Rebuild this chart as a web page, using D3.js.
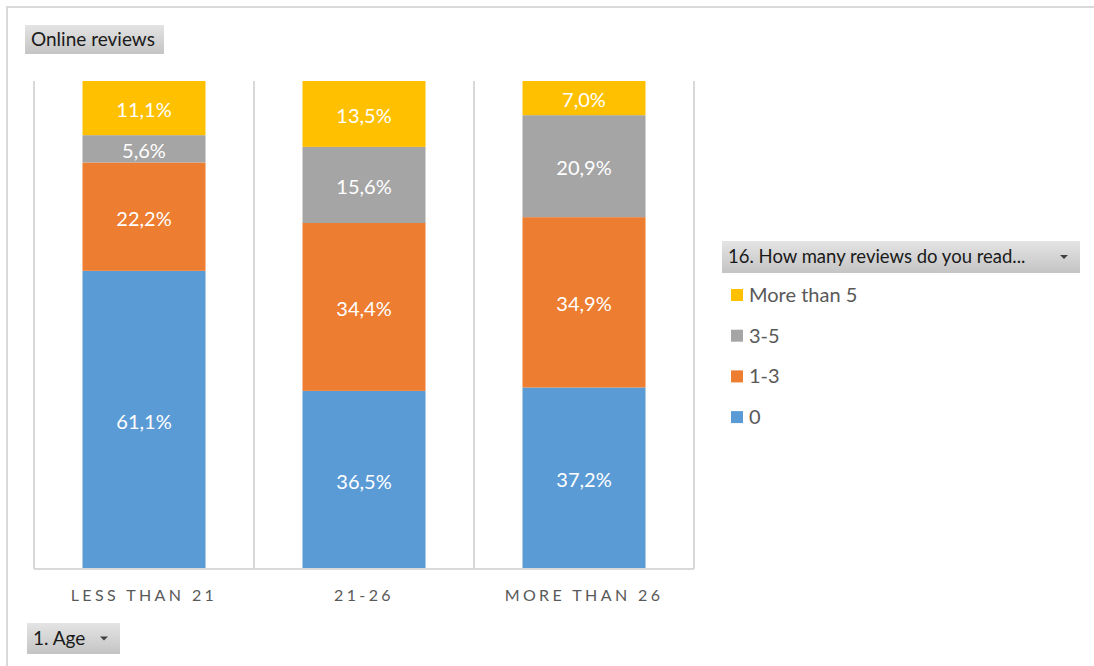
<!DOCTYPE html>
<html>
<head>
<meta charset="utf-8">
<script src="https://cdn.jsdelivr.net/npm/d3@7"></script>
<style>
  html, body { margin: 0; padding: 0; background: #fff; }
  svg { display: block; }
</style>
</head>
<body>
<svg id="chart" width="1094" height="666"></svg>
<script>
// Age groups on the x axis
const categories = ["LESS THAN 21", "21-26", "MORE THAN 26"];
// Answer groups, stacked bottom to top
const seriesNames = ["0", "1-3", "3-5", "More than 5"];
const seriesColors = ["#5b9bd5", "#ed7d31", "#a5a5a5", "#ffc000"];
// Percent of respondents per age group, one array per answer
const values0 = [61.1, 36.5, 37.2];
const values1to3 = [22.2, 34.4, 34.9];
const values3to5 = [5.6, 15.6, 20.9];
const valuesMore5 = [11.1, 13.5, 7.0];

const seriesValues = [values0, values1to3, values3to5, valuesMore5];
const rows = categories.map((c, i) => {
  const r = { cat: c };
  seriesNames.forEach((s, k) => r[s] = seriesValues[k][i]);
  return r;
});

const FONT = "Lato, 'Open Sans', 'Liberation Sans', sans-serif";
const svg = d3.select("#chart");

// Defs: button gradient
const defs = svg.append("defs");
const grad = defs.append("linearGradient").attr("id", "btn").attr("x1", 0).attr("y1", 0).attr("x2", 0).attr("y2", 1);
grad.append("stop").attr("offset", "0%").attr("stop-color", "#e4e4e4");
grad.append("stop").attr("offset", "100%").attr("stop-color", "#c4c4c4");

// Outer frame
svg.append("path")
  .attr("d", "M7,666 V7 H1094")
  .attr("fill", "none").attr("stroke", "#d9d9d9").attr("stroke-width", 2);

const plot = { left: 34, right: 694, top: 81, bottom: 569 };

const x = d3.scaleBand().domain(categories).range([plot.left, plot.right]).paddingInner(0).paddingOuter(0);
const barW = 123;
const y = d3.scaleLinear().domain([0, 100]).range([plot.bottom, plot.top]);

// Vertical separators between categories
const seps = d3.range(categories.length + 1).map(i => plot.left + i * x.bandwidth());
svg.append("g").selectAll("line").data(seps).join("line")
  .attr("x1", d => d).attr("x2", d => d)
  .attr("y1", plot.top).attr("y2", plot.bottom)
  .attr("stroke", "#d9d9d9").attr("stroke-width", 2);

// Stacked bars
const stack = d3.stack().keys(seriesNames)(rows);
const color = d3.scaleOrdinal().domain(seriesNames).range(seriesColors);

const layers = svg.append("g").selectAll("g").data(stack).join("g")
  .attr("fill", d => color(d.key));
layers.selectAll("rect").data(d => d).join("rect")
  .attr("x", d => x(d.data.cat) + (x.bandwidth() - barW) / 2)
  .attr("width", barW)
  .attr("y", d => y(d[1]))
  .attr("height", d => y(d[0]) - y(d[1]));

// Value labels
const fmt = v => d3.format(".1f")(v).replace(".", ",") + "%";
const lbl = svg.append("g");
stack.forEach(layer => {
  layer.forEach(d => {
    lbl.append("text")
      .attr("x", x(d.data.cat) + x.bandwidth() / 2)
      .attr("y", (y(d[0]) + y(d[1])) / 2 + 2)
      .attr("dy", "0.35em")
      .attr("text-anchor", "middle")
      .attr("fill", "#fff")
      .attr("font-family", FONT)
      .attr("font-size", 20)
      .text(fmt(d[1] - d[0]));
  });
});

// X axis
const xAxis = svg.append("g").attr("transform", `translate(0,${plot.bottom})`)
  .call(d3.axisBottom(x).tickSize(0).tickPadding(0));
xAxis.select(".domain").attr("stroke", "#d9d9d9").attr("stroke-width", 2)
  .attr("d", `M${plot.left},0H${plot.right}`);
xAxis.selectAll("text")
  .attr("y", 26).attr("dy", "0.35em")
  .attr("fill", "#595959")
  .attr("font-family", FONT)
  .attr("font-size", 16)
  .attr("letter-spacing", "3.4px");

// Buttons
function button(bx, by, w, h, label, arrow, fs) {
  const b = svg.append("g").attr("transform", `translate(${bx},${by})`);
  b.append("rect").attr("width", w).attr("height", h).attr("fill", "url(#btn)");
  b.append("text").attr("x", 6).attr("y", h / 2).attr("dy", "0.35em")
    .attr("font-family", FONT).attr("font-size", fs).attr("fill", "#1a1a1a").text(label);
  if (arrow) {
    const ax = w - 16, ay = h / 2 - 2;
    b.append("path").attr("d", `M${ax - 4},${ay} L${ax + 4},${ay} L${ax},${ay + 4} Z`).attr("fill", "#404040");
  }
  return b;
}
button(25, 25, 139, 29, "Online reviews", false, 19);
button(27, 623, 93, 31, "1. Age", true, 19);
button(722, 241, 358, 32, "16. How many reviews do you read...", true, 18.5);

// Legend (top item is the top of the stack)
const legendItems = seriesNames.slice().reverse();
const lg = svg.append("g").attr("transform", "translate(731,295)");
legendItems.forEach((name, i) => {
  const it = lg.append("g").attr("transform", `translate(0,${i * 40.7})`);
  it.append("rect").attr("x", 0).attr("y", -6).attr("width", 12).attr("height", 12).attr("fill", color(name));
  it.append("text").attr("x", 18).attr("y", 0).attr("dy", "0.35em")
    .attr("font-family", FONT).attr("font-size", 20).attr("fill", "#595959").text(name);
});
</script>
</body>
</html>
